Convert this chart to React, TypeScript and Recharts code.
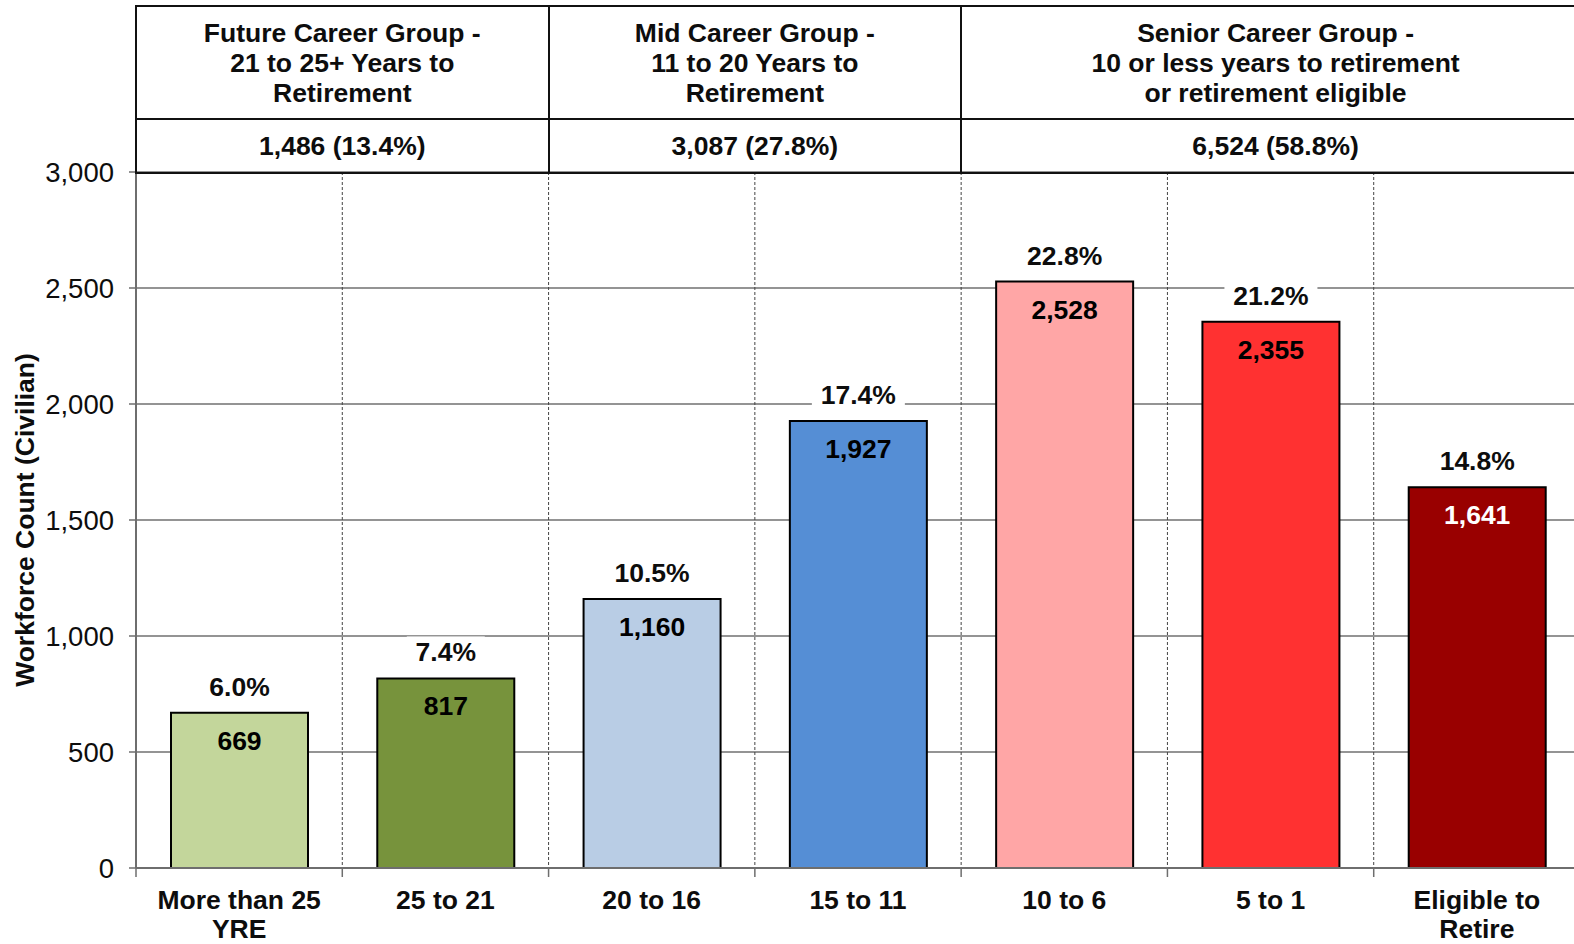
import React from 'react';
import { BarChart, Bar, XAxis, YAxis, CartesianGrid, Cell, LabelList } from 'recharts';

// data
const categories = [
  ['More than 25', 'YRE'],
  ['25 to 21'],
  ['20 to 16'],
  ['15 to 11'],
  ['10 to 6'],
  ['5 to 1'],
  ['Eligible to', 'Retire'],
];
const counts = [669, 817, 1160, 1927, 2528, 2355, 1641];
const shares = ['6.0%', '7.4%', '10.5%', '17.4%', '22.8%', '21.2%', '14.8%'];
const yTicks = [0, 500, 1000, 1500, 2000, 2500, 3000];

const groupTitles = [
  ['Future Career Group -', '21 to 25+ Years to', 'Retirement'],
  ['Mid Career Group -', '11 to 20 Years to', 'Retirement'],
  ['Senior Career Group -', '10 or less years to retirement', 'or retirement eligible'],
];
const groupTotals = ['1,486 (13.4%)', '3,087 (27.8%)', '6,524 (58.8%)'];
const groupSizes = [2, 2, 3];

// styles
const BAR_COLORS = ['#C3D69B', '#77933C', '#B9CDE5', '#558ED5', '#FFA6A6', '#FF3131', '#990000'];
const VALUE_TEXT_COLORS = ['#000', '#000', '#000', '#000', '#000', '#000', '#fff'];
const FONT = '"Liberation Sans", Arial, sans-serif';
const AXIS_COLOR = '#6e6e6e';
const TEXT_COLOR = '#0d0d0d';
const LABEL_SIZE = 26.5;

// the plot runs a few px past the right edge of the picture
const W = 1574;
const H = 944;
const CHART_W = 1580;
const TOP = 172;
const Y_AXIS_W = 136;
const X_AXIS_H = 76;
const BAND = (CHART_W - Y_AXIS_W) / categories.length;

const data = categories.map((c, i) => ({
  name: c.join(' '),
  count: counts[i],
  share: shares[i],
}));

const CategoryTick = (props: any) => {
  const { x, y, index, payload } = props;
  const half = payload?.offset || BAND / 2;
  const lines = categories[index] ?? [String(payload?.value)];
  return (
    <g>
      <line x1={x - half} x2={x - half} y1={y} y2={y + 9} stroke={AXIS_COLOR} strokeWidth={1.5} />
      {lines.map((l, i) => (
        <text
          key={i}
          x={x}
          y={y + 32 + i * 29}
          textAnchor="middle"
          dominantBaseline="central"
          fontFamily={FONT}
          fontWeight="bold"
          fontSize={LABEL_SIZE}
          fill={TEXT_COLOR}
        >
          {l}
        </text>
      ))}
    </g>
  );
};

const BarLabels = (props: any) => {
  const { x, y, width, index, value } = props;
  const cx = x + width / 2;
  const share = data[index].share;
  const boxW = share.length * 15 + 18;
  return (
    <g>
      <rect x={cx - boxW / 2} y={y - 42} width={boxW} height={32} fill="#fff" />
      <text
        x={cx}
        y={y - 26}
        textAnchor="middle"
        dominantBaseline="central"
        fontFamily={FONT}
        fontWeight="bold"
        fontSize={LABEL_SIZE}
        fill={TEXT_COLOR}
      >
        {share}
      </text>
      <text
        x={cx}
        y={y + 28}
        textAnchor="middle"
        dominantBaseline="central"
        fontFamily={FONT}
        fontWeight="bold"
        fontSize={LABEL_SIZE}
        fill={VALUE_TEXT_COLORS[index]}
      >
        {Number(value).toLocaleString('en-US')}
      </text>
    </g>
  );
};

const YTitle = (props: any) => {
  const vb = props.viewBox || { x: 0, y: TOP, width: Y_AXIS_W, height: H - TOP - X_AXIS_H };
  const cx = vb.x + 25;
  const cy = vb.y + vb.height / 2;
  return (
    <text
      x={cx}
      y={cy}
      transform={`rotate(-90 ${cx} ${cy})`}
      textAnchor="middle"
      dominantBaseline="central"
      fontFamily={FONT}
      fontWeight="bold"
      fontSize={LABEL_SIZE}
      fill={TEXT_COLOR}
    >
      Workforce Count (Civilian)
    </text>
  );
};

const Header = () => {
  let start = 0;
  return (
    <>
      {groupSizes.map((size, g) => {
        const left = Y_AXIS_W + start * BAND - 1;
        const width = size * BAND;
        start += size;
        return (
          <div
            key={g}
            style={{
              position: 'absolute',
              left,
              top: 5,
              width: width + (g === groupSizes.length - 1 ? 10 : 0),
              height: TOP - 3,
              boxSizing: 'border-box',
              borderLeft: '2px solid #111',
              borderTop: '2px solid #111',
              borderBottom: '2px solid #111',
              fontFamily: FONT,
              fontWeight: 'bold',
              fontSize: LABEL_SIZE,
              color: TEXT_COLOR,
              textAlign: 'center',
            }}
          >
            <div
              style={{
                height: 113,
                boxSizing: 'border-box',
                borderBottom: '2px solid #111',
                display: 'flex',
                flexDirection: 'column',
                justifyContent: 'center',
                lineHeight: '30px',
              }}
            >
              {groupTitles[g].map((t, i) => (
                <div key={i}>{t}</div>
              ))}
            </div>
            <div
              style={{
                height: TOP - 3 - 113 - 4,
                display: 'flex',
                alignItems: 'center',
                justifyContent: 'center',
                lineHeight: '30px',
              }}
            >
              {groupTotals[g]}
            </div>
          </div>
        );
      })}
    </>
  );
};

export default function App() {
  return (
    <div style={{ position: 'absolute', left: 0, top: 0 }}>
      <div style={{ position: 'relative', width: W, height: H, overflow: 'hidden', background: '#fff' }}>
        <BarChart
          width={CHART_W}
          height={H}
          data={data}
          margin={{ top: TOP, right: 0, bottom: 0, left: 0 }}
        >
          <CartesianGrid vertical={false} stroke="#707070" strokeWidth={1.3} />
          <CartesianGrid
            horizontal={false}
            stroke="#444"
            strokeWidth={1}
            strokeDasharray="3 2"
            verticalCoordinatesGenerator={({ offset }: any) =>
              [1, 2, 3, 4, 5, 6].map((i) => offset.left + (i * offset.width) / categories.length)
            }
          />
          <XAxis
            dataKey="name"
            height={X_AXIS_H}
            interval={0}
            tickLine={false}
            tickSize={0}
            tickMargin={0}
            axisLine={{ stroke: AXIS_COLOR, strokeWidth: 2 }}
            tick={<CategoryTick />}
          />
          <YAxis
            width={Y_AXIS_W}
            domain={[0, 3000]}
            ticks={yTicks}
            interval={0}
            tickSize={7}
            tickMargin={15}
            tickFormatter={(v: number) => v.toLocaleString('en-US')}
            tick={{ fontFamily: FONT, fontSize: 27.5, fill: TEXT_COLOR }}
            tickLine={{ stroke: AXIS_COLOR, strokeWidth: 1.5 }}
            axisLine={{ stroke: AXIS_COLOR, strokeWidth: 2 }}
            label={{ content: (p: any) => <YTitle {...p} /> }}
          />
          <Bar dataKey="count" barSize={137} stroke="#000" strokeWidth={2} isAnimationActive={false}>
            {data.map((d, i) => (
              <Cell key={d.name} fill={BAR_COLORS[i]} />
            ))}
            <LabelList dataKey="count" content={(p: any) => <BarLabels {...p} />} />
          </Bar>
        </BarChart>
        <Header />
      </div>
    </div>
  );
}
